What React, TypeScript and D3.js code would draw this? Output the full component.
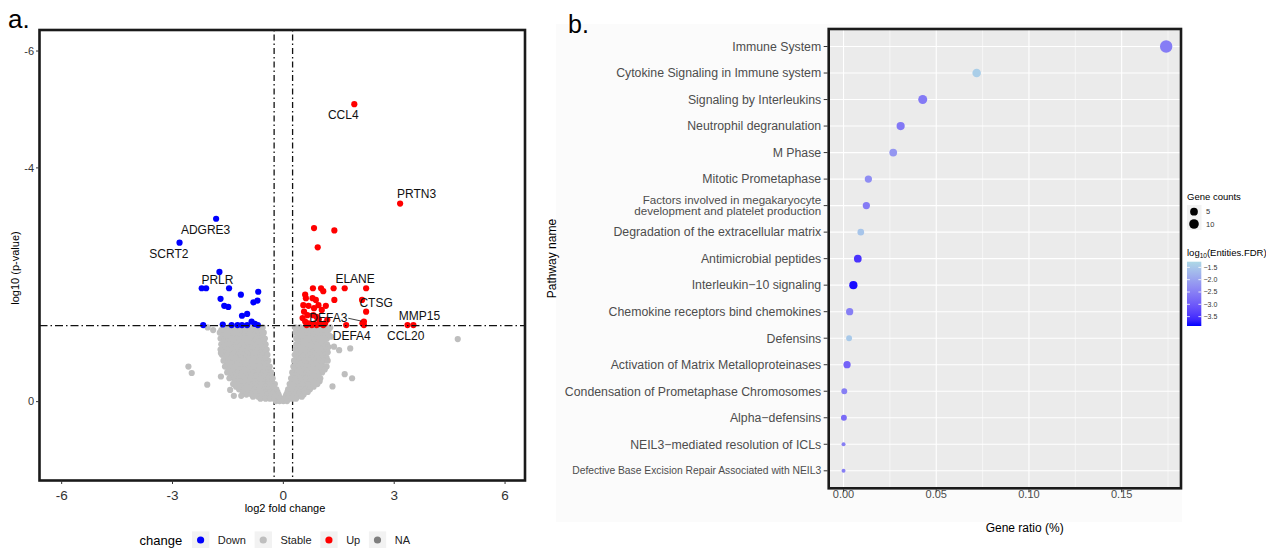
import React, { useEffect, useRef } from "react";
import * as d3 from "d3";

// ---------- panel a: volcano plot (log2 fold change vs log10 p) ----------
const xTicksA = [-6, -3, 0, 3, 6];
const yTicksA = [-6, -4, 0];
const fcCut = [-0.25, 0.25];
const pCut = Math.log10(0.05);

// grey "Stable" cloud
const stableRows = [
  { y: -1.27, xs: [-2.05, -1.62, -1.48, -1.34, -1.2, -1.06, -0.92, -0.78, -0.65, -0.56, 0.32, 0.45, 0.58, 0.72, 0.86, 1.0, 1.13, 1.27] },
  { y: -1.225, xs: [-1.9, -1.68, -1.54, -1.4, -1.26, -1.12, -0.98, -0.84, -0.71, -0.59, 0.39, 0.52, 0.66, 0.8, 0.94, 1.08, 1.22] },
  { y: -1.18, xs: [-1.72, -1.58, -1.44, -1.3, -1.16, -1.02, -0.88, -0.74, -0.62, -0.53, 0.33, 0.46, 0.6, 0.74, 0.88, 1.02, 1.16] },
  { y: -1.13, xs: [-1.64, -1.5, -1.36, -1.22, -1.08, -0.94, -0.8, -0.67, -0.56, 0.4, 0.54, 0.68, 0.82, 0.96, 1.1, 1.24] },
  { y: -1.08, xs: [-1.7, -1.55, -1.41, -1.27, -1.13, -0.99, -0.85, -0.72, -0.6, -0.5, 0.35, 0.48, 0.62, 0.76, 0.9, 1.04, 1.18] },
  { y: -1.03, xs: [-1.62, -1.48, -1.34, -1.2, -1.06, -0.92, -0.78, -0.65, -0.53, 0.41, 0.55, 0.69, 0.83, 0.97, 1.11] },
  { y: -0.98, xs: [-1.68, -1.54, -1.4, -1.26, -1.12, -0.98, -0.84, -0.71, -0.58, -0.48, 0.35, 0.48, 0.62, 0.76, 0.9, 1.04, 1.18] },
  { y: -0.935, xs: [-1.61, -1.47, -1.33, -1.19, -1.05, -0.91, -0.77, -0.64, -0.51, 0.4, 0.53, 0.67, 0.81, 0.95, 1.09, 1.22] },
  { y: -0.89, xs: [-1.7, -1.52, -1.38, -1.24, -1.1, -0.96, -0.82, -0.69, -0.56, -0.45, 0.33, 0.46, 0.6, 0.74, 0.88, 1.02, 1.16] },
  { y: -0.845, xs: [-1.59, -1.45, -1.31, -1.17, -1.03, -0.89, -0.75, -0.62, -0.49, 0.38, 0.51, 0.65, 0.79, 0.93, 1.07, 1.2] },
  { y: -0.8, xs: [-1.66, -1.51, -1.37, -1.23, -1.09, -0.95, -0.81, -0.68, -0.55, -0.43, 0.31, 0.44, 0.58, 0.72, 0.86, 1.0, 1.14] },
  { y: -0.75, xs: [-1.56, -1.42, -1.28, -1.14, -1.0, -0.86, -0.73, -0.6, -0.48, 0.36, 0.49, 0.63, 0.77, 0.91, 1.05, 1.17] },
  { y: -0.7, xs: [-1.62, -1.48, -1.34, -1.2, -1.06, -0.92, -0.78, -0.65, -0.52, -0.41, 0.29, 0.42, 0.56, 0.7, 0.84, 0.98, 1.12, 1.2] },
  { y: -0.65, xs: [-1.53, -1.39, -1.25, -1.11, -0.97, -0.83, -0.7, -0.57, -0.45, 0.34, 0.47, 0.61, 0.75, 0.89, 1.03] },
  { y: -0.6, xs: [-1.58, -1.44, -1.3, -1.16, -1.02, -0.88, -0.74, -0.61, -0.48, -0.37, 0.27, 0.4, 0.54, 0.68, 0.82, 0.96, 1.1, 1.17] },
  { y: -0.55, xs: [-1.48, -1.34, -1.2, -1.06, -0.92, -0.78, -0.65, -0.52, -0.41, 0.31, 0.44, 0.57, 0.71, 0.85, 0.99, 1.12] },
  { y: -0.5, xs: [-1.52, -1.38, -1.24, -1.1, -0.96, -0.82, -0.68, -0.55, -0.43, -0.33, 0.24, 0.37, 0.5, 0.64, 0.78, 0.92, 1.05] },
  { y: -0.45, xs: [-1.42, -1.28, -1.14, -1.0, -0.86, -0.72, -0.59, -0.47, -0.36, 0.27, 0.4, 0.53, 0.67, 0.81, 0.95] },
  { y: -0.4, xs: [-1.46, -1.32, -1.18, -1.04, -0.9, -0.76, -0.62, -0.5, -0.39, -0.29, 0.21, 0.33, 0.46, 0.6, 0.74, 0.88, 1.0] },
  { y: -0.35, xs: [-1.32, -1.18, -1.04, -0.9, -0.76, -0.63, -0.51, -0.4, -0.31, 0.23, 0.35, 0.48, 0.61, 0.74, 0.87, 0.98] },
  { y: -0.3, xs: [-1.36, -1.22, -1.08, -0.94, -0.8, -0.66, -0.53, -0.41, -0.3, -0.23, 0.17, 0.28, 0.4, 0.53, 0.66, 0.8, 0.92] },
  { y: -0.255, xs: [-1.28, -1.14, -1.0, -0.86, -0.72, -0.59, -0.47, -0.36, -0.26, 0.19, 0.31, 0.43, 0.56, 0.69, 0.82] },
  { y: -0.21, xs: [-1.2, -1.06, -0.92, -0.78, -0.64, -0.51, -0.39, -0.28, -0.19, 0.13, 0.24, 0.36, 0.48, 0.6, 0.72] },
  { y: -0.165, xs: [-1.1, -0.96, -0.83, -0.7, -0.57, -0.45, -0.34, -0.24, -0.16, 0.11, 0.21, 0.32, 0.44, 0.56, 0.66] },
  { y: -0.12, xs: [-1.0, -0.86, -0.72, -0.58, -0.45, -0.33, -0.22, -0.13, 0.08, 0.18, 0.3, 0.42, 0.55] },
  { y: -0.085, xs: [-0.82, -0.68, -0.55, -0.42, -0.31, -0.21, -0.12, 0.06, 0.15, 0.26, 0.38, 0.5] },
  { y: -0.05, xs: [-0.62, -0.48, -0.36, -0.25, -0.15, -0.06, 0.02, 0.11, 0.22, 0.34] },
  { y: -0.01, xs: [-0.2, -0.1, 0.0, 0.1] },
];
const stableOutliers: [number, number][] = [
  [-2.57, -0.6], [-2.48, -0.49], [-2.06, -0.29], [4.72, -1.07], [1.29, -1.11], [1.51, -0.88],
  [1.81, -0.91], [1.66, -0.47], [1.86, -0.4], [1.33, -0.26], [-1.69, -0.83], [-1.69, -0.43],
  [1.37, -0.94], [-1.44, -0.2], [-1.34, -0.1], [-1.14, -0.1],
];

const downPoints: [number, number][] = [
  [-1.82, -3.13], [-2.81, -2.72], [-1.73, -2.22], [-2.21, -1.94], [-2.09, -1.94], [-1.47, -1.94],
  [-1.15, -1.83], [-0.68, -1.88], [-1.7, -1.76], [-1.6, -1.64], [-1.49, -1.62], [-0.81, -1.7],
  [-0.7, -1.73], [-0.98, -1.5], [-1.12, -1.47], [-2.17, -1.31], [-1.64, -1.32], [-1.4, -1.31],
  [-1.24, -1.31], [-1.12, -1.31], [-0.98, -1.31], [-0.86, -1.37], [-0.77, -1.33], [-0.69, -1.31],
];

const upPoints: [number, number][] = [
  [1.92, -5.09], [3.16, -3.39], [0.83, -2.97], [1.38, -2.93], [0.93, -2.64],
  [0.8, -1.94], [1.02, -1.94], [1.08, -1.89], [1.36, -1.94], [1.66, -1.94], [2.24, -1.94],
  [0.59, -1.83], [0.61, -1.77], [0.79, -1.77], [0.88, -1.74], [1.38, -1.74], [2.13, -1.74],
  [1.15, -1.64], [0.68, -1.64], [0.54, -1.65], [0.95, -1.65], [0.83, -1.6], [1.04, -1.57],
  [0.56, -1.54], [2.24, -1.54], [0.65, -1.48], [0.81, -1.48], [0.9, -1.45], [0.52, -1.43],
  [0.96, -1.41], [1.19, -1.4], [2.18, -1.37], [0.59, -1.37], [2.14, -1.34], [0.68, -1.34],
  [1.13, -1.34], [0.83, -1.33], [0.97, -1.33], [2.18, -1.31], [1.7, -1.31], [0.63, -1.31],
  [0.77, -1.31], [0.9, -1.31], [1.08, -1.31], [3.36, -1.31], [3.52, -1.31],
];

const geneLabels = [
  { gene: "CCL4", x: 1.92, y: -5.09 },
  { gene: "PRTN3", x: 3.16, y: -3.39 },
  { gene: "ADGRE3", x: -1.82, y: -3.13 },
  { gene: "SCRT2", x: -2.81, y: -2.72 },
  { gene: "PRLR", x: -1.73, y: -2.22 },
  { gene: "ELANE", x: 2.24, y: -1.94 },
  { gene: "CTSG", x: 2.24, y: -1.54 },
  { gene: "DEFA3", x: 2.18, y: -1.37 },
  { gene: "DEFA4", x: 1.7, y: -1.31 },
  { gene: "MMP15", x: 3.52, y: -1.31 },
  { gene: "CCL20", x: 3.36, y: -1.31 },
];
// repel-style label offsets (px) from the point
const labelNudge: Record<string, [number, number]> = {
  CCL4: [-11, 10], PRTN3: [16.5, -9.5], ADGRE3: [-10.5, 11.3], SCRT2: [-10.6, 10.6],
  PRLR: [-2, 7.5], ELANE: [-11, -10], CTSG: [10, -9.4], DEFA3: [-35.6, -4.3],
  DEFA4: [5.6, 10.6], MMP15: [6, -9.4], CCL20: [-1.8, 10.6],
};

const changeLevels = ["Down", "Stable", "Up", "NA"];
const changeColors = ["#0000ff", "#bebebe", "#ff0000", "#7f7f7f"];

// ---------- panel b: pathway dot plot ----------
const pathways = [
  "Immune System",
  "Cytokine Signaling in Immune system",
  "Signaling by Interleukins",
  "Neutrophil degranulation",
  "M Phase",
  "Mitotic Prometaphase",
  "Factors involved in megakaryocyte\ndevelopment and platelet production",
  "Degradation of the extracellular matrix",
  "Antimicrobial peptides",
  "Interleukin\u221210 signaling",
  "Chemokine receptors bind chemokines",
  "Defensins",
  "Activation of Matrix Metalloproteinases",
  "Condensation of Prometaphase Chromosomes",
  "Alpha\u2212defensins",
  "NEIL3\u2212mediated resolution of ICLs",
  "Defective Base Excision Repair Associated with NEIL3",
];
const geneRatio = [0.174, 0.0718, 0.0427, 0.0308, 0.0268, 0.0134, 0.0123, 0.0093, 0.0077, 0.0053, 0.0033, 0.003, 0.0019, 0.0004, 0.0002, 0.0, 0.0];
const geneCounts = [21, 7, 8, 6, 5, 4, 4, 3, 5, 6, 4, 2, 4, 2, 2, 1, 1];
const log10FDR = [-2.52, -1.4, -2.57, -2.6, -2.18, -2.3, -2.55, -1.53, -3.5, -3.83, -2.5, -1.48, -2.9, -2.5, -2.78, -2.5, -2.5];
const ratioMajor = [0, 0.05, 0.1, 0.15];
const ratioMinor = [0.025, 0.075, 0.125, 0.175];
const countBreaks = [5, 10];
const fdrBreaks = [-1.5, -2.0, -2.5, -3.0, -3.5];

const FONT = "'Liberation Sans', Arial, Helvetica, sans-serif";

function drawVolcano(g: any) {
  const box = { left: 39.5, right: 525, top: 30, bottom: 480.5 };
  const x = d3.scaleLinear().domain([-6.6, 6.54]).range([box.left, box.right]);
  const y = d3.scaleLinear().domain([-6.36, 1.35]).range([box.top, box.bottom]);
  const color = d3.scaleOrdinal<string>().domain(changeLevels).range(changeColors);

  g.append("text").attr("x", 8).attr("y", 28).attr("font-size", 26).text("a.");

  // threshold lines
  fcCut.forEach((v) => {
    g.append("line").attr("x1", x(v)).attr("x2", x(v)).attr("y1", box.top).attr("y2", box.bottom)
      .attr("stroke", "#111").attr("stroke-width", 1.3).attr("stroke-dasharray", "1.5,3,6,3");
  });

  const stable: [number, number][] = stableRows.flatMap((r) => r.xs.map((v) => [v, r.y] as [number, number])).concat(stableOutliers);
  const pts = g.append("g");
  const layer = (data: [number, number][], level: string) =>
    pts.append("g").selectAll("circle").data(data).join("circle")
      .attr("cx", (d: any) => x(d[0])).attr("cy", (d: any) => y(d[1]))
      .attr("r", 3.1).attr("fill", color(level));
  layer(stable, "Stable");
  layer(downPoints, "Down");
  layer(upPoints, "Up");

  g.append("line").attr("x1", box.left).attr("x2", box.right).attr("y1", y(pCut)).attr("y2", y(pCut))
    .attr("stroke", "#111").attr("stroke-width", 1.3).attr("stroke-dasharray", "8,3,1.5,3");

  // gene labels
  const lab = g.append("g").attr("font-size", 12).attr("fill", "#111");
  geneLabels.forEach((d) => {
    const [dx, dy] = labelNudge[d.gene];
    const t = lab.append("text").attr("x", x(d.x) + dx).attr("y", y(d.y) + dy).attr("dy", "0.36em")
      .attr("text-anchor", "middle").text(d.gene);
    if (d.gene === "DEFA3") {
      const w = (t.node() as SVGTextElement).getComputedTextLength();
      lab.append("line").attr("x1", x(d.x) + dx + w / 2 + 1).attr("y1", y(d.y) + dy + 1)
        .attr("x2", x(d.x) - 2.5).attr("y2", y(d.y) - 0.5).attr("stroke", "#111").attr("stroke-width", 0.8);
    }
  });

  g.append("rect").attr("x", box.left).attr("y", box.top).attr("width", box.right - box.left)
    .attr("height", box.bottom - box.top).attr("fill", "none").attr("stroke", "#1a1a1a").attr("stroke-width", 2.6);

  // axes
  const ya = g.append("g");
  yTicksA.forEach((t) => {
    ya.append("line").attr("x1", box.left - 3.5).attr("x2", box.left).attr("y1", y(t)).attr("y2", y(t)).attr("stroke", "#333");
    ya.append("text").attr("x", box.left - 5.5).attr("y", y(t)).attr("dy", "0.35em").attr("text-anchor", "end")
      .attr("font-size", 11).attr("fill", "#333").text(String(t));
  });
  const xa = g.append("g");
  xTicksA.forEach((t) => {
    xa.append("line").attr("x1", x(t)).attr("x2", x(t)).attr("y1", box.bottom).attr("y2", box.bottom + 3.5).attr("stroke", "#333");
    xa.append("text").attr("x", x(t)).attr("y", 500).attr("text-anchor", "middle")
      .attr("font-size", 13.5).attr("fill", "#333").text(String(t));
  });
  g.append("text").attr("x", 285).attr("y", 512).attr("text-anchor", "middle").attr("font-size", 11).text("log2 fold change");
  g.append("text").attr("transform", "translate(19,268) rotate(-90)").attr("text-anchor", "middle")
    .attr("font-size", 11).text("log10 (p-value)");

  // legend
  const leg = g.append("g");
  const ly = 540;
  leg.append("text").attr("x", 139.5).attr("y", ly).attr("dy", "0.35em").attr("font-size", 13).text("change");
  let cx = 192;
  changeLevels.forEach((lvl) => {
    leg.append("rect").attr("x", cx).attr("y", ly - 8.6).attr("width", 17.3).attr("height", 17.3).attr("fill", "#f2f2f2");
    leg.append("circle").attr("cx", cx + 8.6).attr("cy", ly).attr("r", 3.6).attr("fill", color(lvl));
    const t = leg.append("text").attr("x", cx + 25.8).attr("y", ly).attr("dy", "0.35em").attr("font-size", 11).attr("fill", "#222").text(lvl);
    cx += 25.8 + (t.node() as SVGTextElement).getComputedTextLength() + 8.7;
  });
}

function drawDotPlot(g: any) {
  const box = { left: 828.7, right: 1181, top: 29, bottom: 488.3 };
  const x = d3.scaleLinear().domain([-0.008, 0.182]).range([box.left, box.right]);
  const y = d3.scalePoint<string>().domain(pathways).range([box.top, box.bottom]).padding(0.66);
  const fdrDomain = [-3.88, -1.27];
  const color = d3.scaleLinear<string>().domain(fdrDomain).range(["#0000ff", "#add8e6"]).interpolate(d3.interpolateLab).clamp(true);
  const countNorm = d3.scaleLinear().domain(d3.extent(geneCounts) as [number, number]).range([0, 1]).clamp(true);
  const rad = d3.scaleLinear().domain([0, 1]).range([2, 6.2]);
  const r = (n: number) => rad(Math.sqrt(countNorm(n)));

  g.append("rect").attr("x", 556).attr("y", 24).attr("width", 626).attr("height", 498).attr("fill", "#fbfbfb");
  g.append("text").attr("x", 568).attr("y", 33).attr("font-size", 25).text("b.");

  g.append("rect").attr("x", box.left).attr("y", box.top).attr("width", box.right - box.left)
    .attr("height", box.bottom - box.top).attr("fill", "#ebebeb");
  const grid = g.append("g").attr("stroke", "#fff");
  ratioMinor.forEach((v) => grid.append("line").attr("x1", x(v)).attr("x2", x(v)).attr("y1", box.top).attr("y2", box.bottom).attr("stroke-width", 0.55));
  ratioMajor.forEach((v) => grid.append("line").attr("x1", x(v)).attr("x2", x(v)).attr("y1", box.top).attr("y2", box.bottom).attr("stroke-width", 1.1));
  pathways.forEach((p) => grid.append("line").attr("x1", box.left).attr("x2", box.right).attr("y1", y(p)).attr("y2", y(p)).attr("stroke-width", 1.1));

  g.append("g").selectAll("circle").data(pathways).join("circle")
    .attr("cx", (_: any, i: number) => x(geneRatio[i]))
    .attr("cy", (d: string) => y(d))
    .attr("r", (_: any, i: number) => r(geneCounts[i]))
    .attr("fill", (_: any, i: number) => color(log10FDR[i]));

  g.append("rect").attr("x", box.left).attr("y", box.top).attr("width", box.right - box.left)
    .attr("height", box.bottom - box.top).attr("fill", "none").attr("stroke", "#1a1a1a").attr("stroke-width", 2.6);

  // y axis
  const ya = g.append("g");
  pathways.forEach((p) => {
    const yy = y(p) as number;
    ya.append("line").attr("x1", box.left - 5).attr("x2", box.left - 1).attr("y1", yy).attr("y2", yy).attr("stroke", "#333");
    const lines = p.split("\n");
    const fs = lines.length > 1 ? 11.6 : p.length > 45 ? 10.3 : 12.3;
    const lh = 10.8;
    const t = ya.append("text").attr("text-anchor", "end").attr("font-size", fs).attr("fill", "#4d4d4d");
    lines.forEach((ln, i) => {
      t.append("tspan").attr("x", box.left - 7.5).attr("y", yy + (i - (lines.length - 1) / 2) * lh).attr("dy", "0.35em").text(ln);
    });
  });
  // x axis
  const fmt = d3.format(".2f");
  ratioMajor.forEach((v) => {
    g.append("line").attr("x1", x(v)).attr("x2", x(v)).attr("y1", box.bottom + 1).attr("y2", box.bottom + 4).attr("stroke", "#333");
    g.append("text").attr("x", x(v)).attr("y", 497.5).attr("text-anchor", "middle").attr("font-size", 11).attr("fill", "#4d4d4d").text(fmt(v));
  });
  g.append("text").attr("x", 1024.7).attr("y", 532).attr("text-anchor", "middle").attr("font-size", 12).text("Gene ratio (%)");
  g.append("text").attr("transform", "translate(555.5,258.6) rotate(-90)").attr("text-anchor", "middle").attr("font-size", 12).text("Pathway name");

  // size legend
  const L = 1187;
  g.append("text").attr("x", L).attr("y", 200).attr("font-size", 9.5).text("Gene counts");
  g.append("rect").attr("x", L).attr("y", 205).attr("width", 14.5).attr("height", 25).attr("fill", "#f2f2f2");
  countBreaks.forEach((c, i) => {
    const cy = 211.7 + i * 12.3;
    g.append("circle").attr("cx", L + 7).attr("cy", cy).attr("r", r(c)).attr("fill", "#000");
    g.append("text").attr("x", L + 19).attr("y", cy).attr("dy", "0.35em").attr("font-size", 7.5).attr("fill", "#333").text(String(c));
  });

  // colour bar
  const t = g.append("text").attr("x", L).attr("y", 255.5).attr("font-size", 9.5);
  t.append("tspan").text("log");
  t.append("tspan").attr("font-size", 6.5).attr("dy", 2.5).text("10");
  t.append("tspan").attr("dy", -2.5).text("(Entities.FDR)");
  const barTop = 261.7, barBot = 326, barW = 14.3;
  const by = d3.scaleLinear().domain([fdrDomain[1], fdrDomain[0]]).range([barTop, barBot]);
  const grad = g.append("defs").append("linearGradient").attr("id", "fdrgrad").attr("x1", 0).attr("x2", 0).attr("y1", 0).attr("y2", 1);
  d3.range(0, 1.0001, 0.1).forEach((f) => {
    grad.append("stop").attr("offset", f).attr("stop-color", color(fdrDomain[1] + (fdrDomain[0] - fdrDomain[1]) * f));
  });
  g.append("rect").attr("x", L).attr("y", barTop).attr("width", barW).attr("height", barBot - barTop).attr("fill", "url(#fdrgrad)");
  fdrBreaks.forEach((b) => {
    const yy = by(b);
    g.append("line").attr("x1", L).attr("x2", L + 2.9).attr("y1", yy).attr("y2", yy).attr("stroke", "#fff").attr("stroke-width", 0.8);
    g.append("line").attr("x1", L + barW - 2.9).attr("x2", L + barW).attr("y1", yy).attr("y2", yy).attr("stroke", "#fff").attr("stroke-width", 0.8);
    g.append("text").attr("x", 1203.5).attr("y", yy).attr("dy", "0.35em").attr("font-size", 7).attr("fill", "#333")
      .text(d3.format(".1f")(b).replace("-", "\u2212"));
  });
}

export default function App() {
  const ref = useRef<SVGSVGElement>(null);
  useEffect(() => {
    const svg = d3.select(ref.current);
    svg.selectAll("*").remove();
    drawVolcano(svg.append("g"));
    drawDotPlot(svg.append("g"));
  }, []);
  return (
    <svg ref={ref} width={1266} height={548} fontFamily={FONT}
      style={{ position: "absolute", left: 0, top: 0, background: "#fff" }} />
  );
}
